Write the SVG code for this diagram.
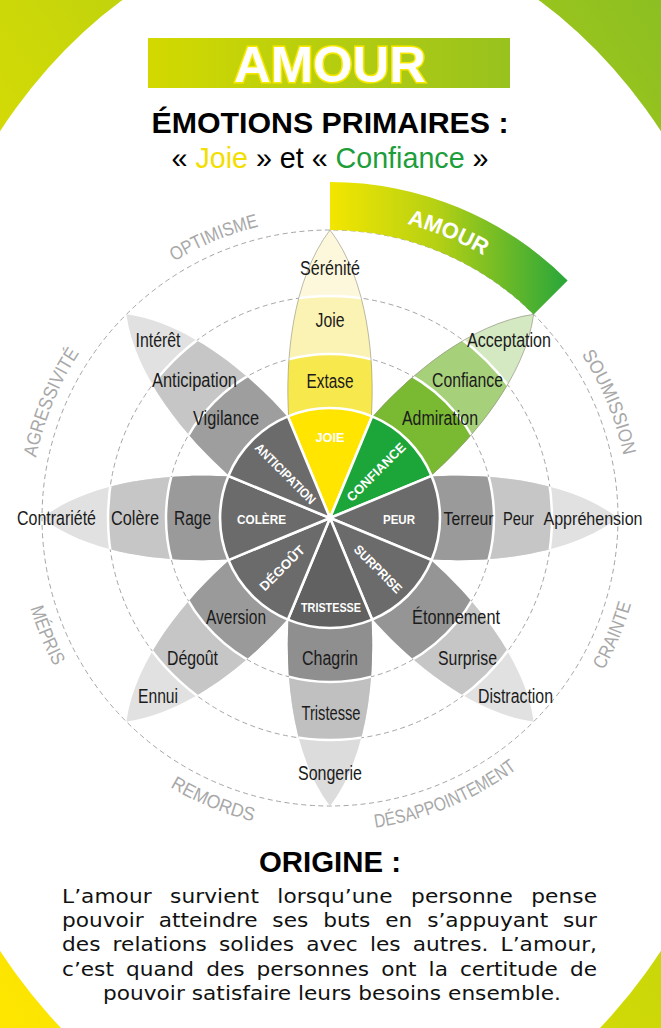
<svg xmlns="http://www.w3.org/2000/svg" width="661" height="1028" viewBox="0 0 661 1028">
<defs>
<style>
.ring{fill:none;stroke:#9b9b9b;stroke-width:0.9;stroke-dasharray:5 3.5}
.sep{fill:none;stroke:#fff;stroke-width:2.5}
.outline{fill:none;stroke:#8f8f80;stroke-width:0.6}
.sector{stroke:#fff;stroke-width:2.6;stroke-linejoin:round}
.core{fill:#6b6b6b}
.lbl{font-family:"Liberation Sans",Arial,sans-serif;font-size:20px;fill:#1b1b1b;text-anchor:middle}
.lbs{font-size:18px}
.clbl{font-family:"Liberation Sans",Arial,sans-serif;font-weight:bold;font-size:13px;fill:#fff;text-anchor:middle}
.dyad{font-family:"Liberation Sans",Arial,sans-serif;font-size:19px;fill:#a8a8a8}
.para{font-family:"DejaVu Sans",Arial,sans-serif;font-size:19px;fill:#111}
</style>
<linearGradient id="bgGrad" gradientUnits="userSpaceOnUse" x1="-137" y1="815" x2="798" y2="213">
<stop offset="0" stop-color="#ffe600"/><stop offset="0.5" stop-color="#cdd808"/><stop offset="1" stop-color="#8cbf22"/>
</linearGradient>
<linearGradient id="hdrGrad" x1="0" y1="0" x2="1" y2="0">
<stop offset="0" stop-color="#d3d900"/><stop offset="1" stop-color="#98c21e"/>
</linearGradient>
<linearGradient id="amourGrad" gradientUnits="userSpaceOnUse" x1="330" y1="0" x2="568" y2="0">
<stop offset="0" stop-color="#f3e600"/><stop offset="0.45" stop-color="#b5d014"/><stop offset="1" stop-color="#28a63a"/>
</linearGradient>
<path id="petalPath" d="M0,0 L41.3,-99.8 C45,-158 38,-238 0,-288 C-38,-238 -45,-158 -41.3,-99.8 Z"/>
<clipPath id="petalClip"><path d="M0,0 L41.3,-99.8 C45,-158 38,-238 0,-288 C-38,-238 -45,-158 -41.3,-99.8 Z"/></clipPath>
<path id="sectorPath" d="M0,0 L-42.1,-101.6 A110,110 0 0 1 42.1,-101.6 Z"/>
<path id="arcAmour" d="M330,214 A304,304 0 0 1 545,303"/>
<path id="arcOpt" d="M108.8,315.3 A300,300 0 0 1 343.1,218.3"/>
<path id="arcSou" d="M532.7,296.8 A300,300 0 0 1 629.7,531.1"/>
<path id="arcAgr" d="M30.3,531.1 A300,300 0 0 1 127.3,296.8"/>
<path id="arcCra" d="M541.5,748.8 A313,313 0 0 0 642.7,504.3"/>
<path id="arcDes" d="M289.1,828.3 A313,313 0 0 0 578.3,708.5"/>
<path id="arcRem" d="M99.2,729.5 A313,313 0 0 0 343.7,830.7"/>
<path id="arcMep" d="M17.3,504.3 A313,313 0 0 0 118.5,748.8"/>
</defs>

<g id="background">
<rect x="0" y="0" width="661" height="1028" fill="url(#bgGrad)"/>
<ellipse cx="330.5" cy="541" rx="445" ry="612" fill="#fff"/>
</g>

<g id="header">
<rect x="148" y="38" width="362" height="50" fill="url(#hdrGrad)"/>
<text x="330" y="82" font-family="Liberation Sans, Arial, sans-serif" font-weight="bold" font-size="50" fill="#fff" stroke="#f6e800" stroke-width="3" paint-order="stroke" text-anchor="middle" textLength="192" lengthAdjust="spacingAndGlyphs">AMOUR</text>
<text x="330" y="133" font-family="Liberation Sans, Arial, sans-serif" font-weight="bold" font-size="30" fill="#000" text-anchor="middle" textLength="357" lengthAdjust="spacingAndGlyphs">ÉMOTIONS PRIMAIRES :</text>
<text x="330" y="168" font-family="Liberation Sans, Arial, sans-serif" font-size="29" fill="#000" text-anchor="middle" textLength="317" lengthAdjust="spacingAndGlyphs">« <tspan fill="#f2de00">Joie</tspan> » et « <tspan fill="#1d9e3a">Confiance</tspan> »</text>
</g>

<g id="rings">
<circle cx="330" cy="518" r="164" class="ring"/>
<circle cx="330" cy="518" r="222" class="ring"/>
<circle cx="330" cy="518" r="288" class="ring"/>
</g>

<g id="amour-band">
<path d="M330,182 A336,336 0 0 1 567.6,280.4 L533.6,314.4 A288,288 0 0 0 330,230 Z" fill="url(#amourGrad)"/>
<text font-family="Liberation Sans, Arial, sans-serif" font-weight="bold" font-size="22" fill="#fff" text-anchor="middle"><textPath href="#arcAmour" startOffset="50%">AMOUR</textPath></text>
</g>

<g id="dyads">
<text class="dyad" text-anchor="middle"><textPath href="#arcOpt" startOffset="50%" textLength="92" lengthAdjust="spacingAndGlyphs">OPTIMISME</textPath></text>
<text class="dyad" text-anchor="middle"><textPath href="#arcSou" startOffset="50%" textLength="110" lengthAdjust="spacingAndGlyphs">SOUMISSION</textPath></text>
<text class="dyad" text-anchor="middle"><textPath href="#arcAgr" startOffset="50%" textLength="114" lengthAdjust="spacingAndGlyphs">AGRESSIVITÉ</textPath></text>
<text class="dyad" text-anchor="middle"><textPath href="#arcCra" startOffset="50%" textLength="72" lengthAdjust="spacingAndGlyphs">CRAINTE</textPath></text>
<text class="dyad" text-anchor="middle"><textPath href="#arcDes" startOffset="50%" textLength="155" lengthAdjust="spacingAndGlyphs">DÉSAPPOINTEMENT</textPath></text>
<text class="dyad" text-anchor="middle"><textPath href="#arcRem" startOffset="50%" textLength="90" lengthAdjust="spacingAndGlyphs">REMORDS</textPath></text>
<text class="dyad" text-anchor="middle"><textPath href="#arcMep" startOffset="50%" textLength="63" lengthAdjust="spacingAndGlyphs">MÉPRIS</textPath></text>
</g>

<g id="petal-joie">
<g transform="translate(330,518) rotate(0)">
<g clip-path="url(#petalClip)">
<circle r="290" fill="#fdf8dc"/><circle r="222" fill="#fbf3b3"/><circle r="164" fill="#f7e84e"/>
<circle r="222" class="sep"/><circle r="164" class="sep"/>
</g>
<use href="#petalPath" class="outline"/>
<use href="#sectorPath" class="sector" fill="#ffe500"/>
</g>
<text class="lbl" x="330" y="275" textLength="60" lengthAdjust="spacingAndGlyphs">Sérénité</text>
<text class="lbl" x="330" y="327" textLength="29" lengthAdjust="spacingAndGlyphs">Joie</text>
<text class="lbl" x="330" y="388" textLength="47" lengthAdjust="spacingAndGlyphs">Extase</text>
<text class="clbl" x="330" y="442" textLength="29" lengthAdjust="spacingAndGlyphs">JOIE</text>
</g>

<g id="petal-confiance">
<g transform="translate(330,518) rotate(45)">
<g clip-path="url(#petalClip)">
<circle r="290" fill="#d4e8c2"/><circle r="222" fill="#a6d07a"/><circle r="164" fill="#7ab932"/>
<circle r="222" class="sep"/><circle r="164" class="sep"/>
</g>
<use href="#petalPath" class="outline"/>
<use href="#sectorPath" class="sector" fill="#1ca538"/>
</g>
<text class="lbl" x="509" y="347" textLength="84" lengthAdjust="spacingAndGlyphs">Acceptation</text>
<text class="lbl" x="467.5" y="387" textLength="71" lengthAdjust="spacingAndGlyphs">Confiance</text>
<text class="lbl" x="440" y="425" textLength="76" lengthAdjust="spacingAndGlyphs">Admiration</text>
<text class="clbl" transform="translate(376,472) rotate(-45)" y="4.7" textLength="77" lengthAdjust="spacingAndGlyphs">CONFIANCE</text>
</g>

<g id="petal-peur">
<g transform="translate(330,518) rotate(90)">
<g clip-path="url(#petalClip)">
<circle r="290" fill="#e1e1e1"/><circle r="222" fill="#c6c6c6"/><circle r="164" fill="#9a9a9a"/>
<circle r="222" class="sep"/><circle r="164" class="sep"/>
</g>
<use href="#sectorPath" class="sector core"/>
</g>
<text class="lbl lbs" x="468.5" y="524.5" textLength="50" lengthAdjust="spacingAndGlyphs">Terreur</text>
<text class="lbl lbs" x="518.5" y="524.5" textLength="31" lengthAdjust="spacingAndGlyphs">Peur</text>
<text class="lbl lbs" x="593" y="524.5" textLength="99" lengthAdjust="spacingAndGlyphs">Appréhension</text>
<text class="clbl" x="399" y="524" textLength="32" lengthAdjust="spacingAndGlyphs">PEUR</text>
</g>

<g id="petal-surprise">
<g transform="translate(330,518) rotate(135)">
<g clip-path="url(#petalClip)">
<circle r="290" fill="#e1e1e1"/><circle r="222" fill="#c6c6c6"/><circle r="164" fill="#959595"/>
<circle r="222" class="sep"/><circle r="164" class="sep"/>
</g>
<use href="#sectorPath" class="sector core"/>
</g>
<text class="lbl" x="456" y="624" textLength="88" lengthAdjust="spacingAndGlyphs">Étonnement</text>
<text class="lbl" x="467.5" y="665" textLength="59" lengthAdjust="spacingAndGlyphs">Surprise</text>
<text class="lbl" x="515.5" y="703" textLength="75" lengthAdjust="spacingAndGlyphs">Distraction</text>
<text class="clbl" transform="translate(378,569) rotate(45)" y="4.5" font-size="12.5" textLength="62" lengthAdjust="spacingAndGlyphs">SURPRISE</text>
</g>

<g id="petal-tristesse">
<g transform="translate(330,518) rotate(180)">
<g clip-path="url(#petalClip)">
<circle r="290" fill="#dcdcdc"/><circle r="222" fill="#c0c0c0"/><circle r="164" fill="#8f8f8f"/>
<circle r="222" class="sep"/><circle r="164" class="sep"/>
</g>
<use href="#sectorPath" class="sector" fill="#616161"/>
</g>
<text class="lbl" x="330" y="665" textLength="56" lengthAdjust="spacingAndGlyphs">Chagrin</text>
<text class="lbl" x="331" y="720" textLength="59" lengthAdjust="spacingAndGlyphs">Tristesse</text>
<text class="lbl" x="330" y="780" textLength="64" lengthAdjust="spacingAndGlyphs">Songerie</text>
<text class="clbl" x="331" y="612" font-size="12" textLength="60" lengthAdjust="spacingAndGlyphs">TRISTESSE</text>
</g>

<g id="petal-degout">
<g transform="translate(330,518) rotate(225)">
<g clip-path="url(#petalClip)">
<circle r="290" fill="#e1e1e1"/><circle r="222" fill="#c6c6c6"/><circle r="164" fill="#9a9a9a"/>
<circle r="222" class="sep"/><circle r="164" class="sep"/>
</g>
<use href="#sectorPath" class="sector core"/>
</g>
<text class="lbl" x="236" y="624" textLength="60" lengthAdjust="spacingAndGlyphs">Aversion</text>
<text class="lbl" x="192.5" y="665" textLength="51" lengthAdjust="spacingAndGlyphs">Dégoût</text>
<text class="lbl" x="158" y="703" textLength="40" lengthAdjust="spacingAndGlyphs">Ennui</text>
<text class="clbl" transform="translate(282,568) rotate(-45)" y="4.7" textLength="58" lengthAdjust="spacingAndGlyphs">DÉGOÛT</text>
</g>

<g id="petal-colere">
<g transform="translate(330,518) rotate(270)">
<g clip-path="url(#petalClip)">
<circle r="290" fill="#e1e1e1"/><circle r="222" fill="#c6c6c6"/><circle r="164" fill="#9a9a9a"/>
<circle r="222" class="sep"/><circle r="164" class="sep"/>
</g>
<use href="#sectorPath" class="sector core"/>
</g>
<text class="lbl" x="56.5" y="525" textLength="79" lengthAdjust="spacingAndGlyphs">Contrariété</text>
<text class="lbl" x="135" y="525" textLength="48" lengthAdjust="spacingAndGlyphs">Colère</text>
<text class="lbl" x="192.5" y="525" textLength="37" lengthAdjust="spacingAndGlyphs">Rage</text>
<text class="clbl" x="261.5" y="524" font-size="12.5" textLength="49" lengthAdjust="spacingAndGlyphs">COLÈRE</text>
</g>

<g id="petal-anticipation">
<g transform="translate(330,518) rotate(315)">
<g clip-path="url(#petalClip)">
<circle r="290" fill="#e1e1e1"/><circle r="222" fill="#c6c6c6"/><circle r="164" fill="#9e9e9e"/>
<circle r="222" class="sep"/><circle r="164" class="sep"/>
</g>
<use href="#sectorPath" class="sector core"/>
</g>
<text class="lbl" x="158" y="347" textLength="45" lengthAdjust="spacingAndGlyphs">Intérêt</text>
<text class="lbl" x="194.5" y="387" textLength="85" lengthAdjust="spacingAndGlyphs">Anticipation</text>
<text class="lbl" x="226" y="425" textLength="66" lengthAdjust="spacingAndGlyphs">Vigilance</text>
<text class="clbl" transform="translate(285,474) rotate(45)" y="4" font-size="11" textLength="80" lengthAdjust="spacingAndGlyphs">ANTICIPATION</text>
</g>

<g id="origine">
<text x="330" y="872" font-family="Liberation Sans, Arial, sans-serif" font-weight="bold" font-size="29" fill="#000" text-anchor="middle" textLength="142" lengthAdjust="spacingAndGlyphs">ORIGINE :</text>
<g transform="translate(62,0) scale(1.14,1)">
<text class="para" x="0" y="903" word-spacing="10" textLength="469.3" lengthAdjust="spacing">L’amour survient lorsqu’une personne pense</text>
<text class="para" x="0" y="927" word-spacing="7" textLength="469.3" lengthAdjust="spacing">pouvoir atteindre ses buts en s’appuyant sur</text>
<text class="para" x="0" y="951" word-spacing="4.5" textLength="469.3" lengthAdjust="spacing">des relations solides avec les autres. L’amour,</text>
<text class="para" x="0" y="976" word-spacing="4.5" textLength="469.3" lengthAdjust="spacing">c’est quand des personnes ont la certitude de</text>
<text class="para" x="236.8" y="1000" text-anchor="middle" textLength="401.8" lengthAdjust="spacing">pouvoir satisfaire leurs besoins ensemble.</text>
</g>
</g>
</svg>
